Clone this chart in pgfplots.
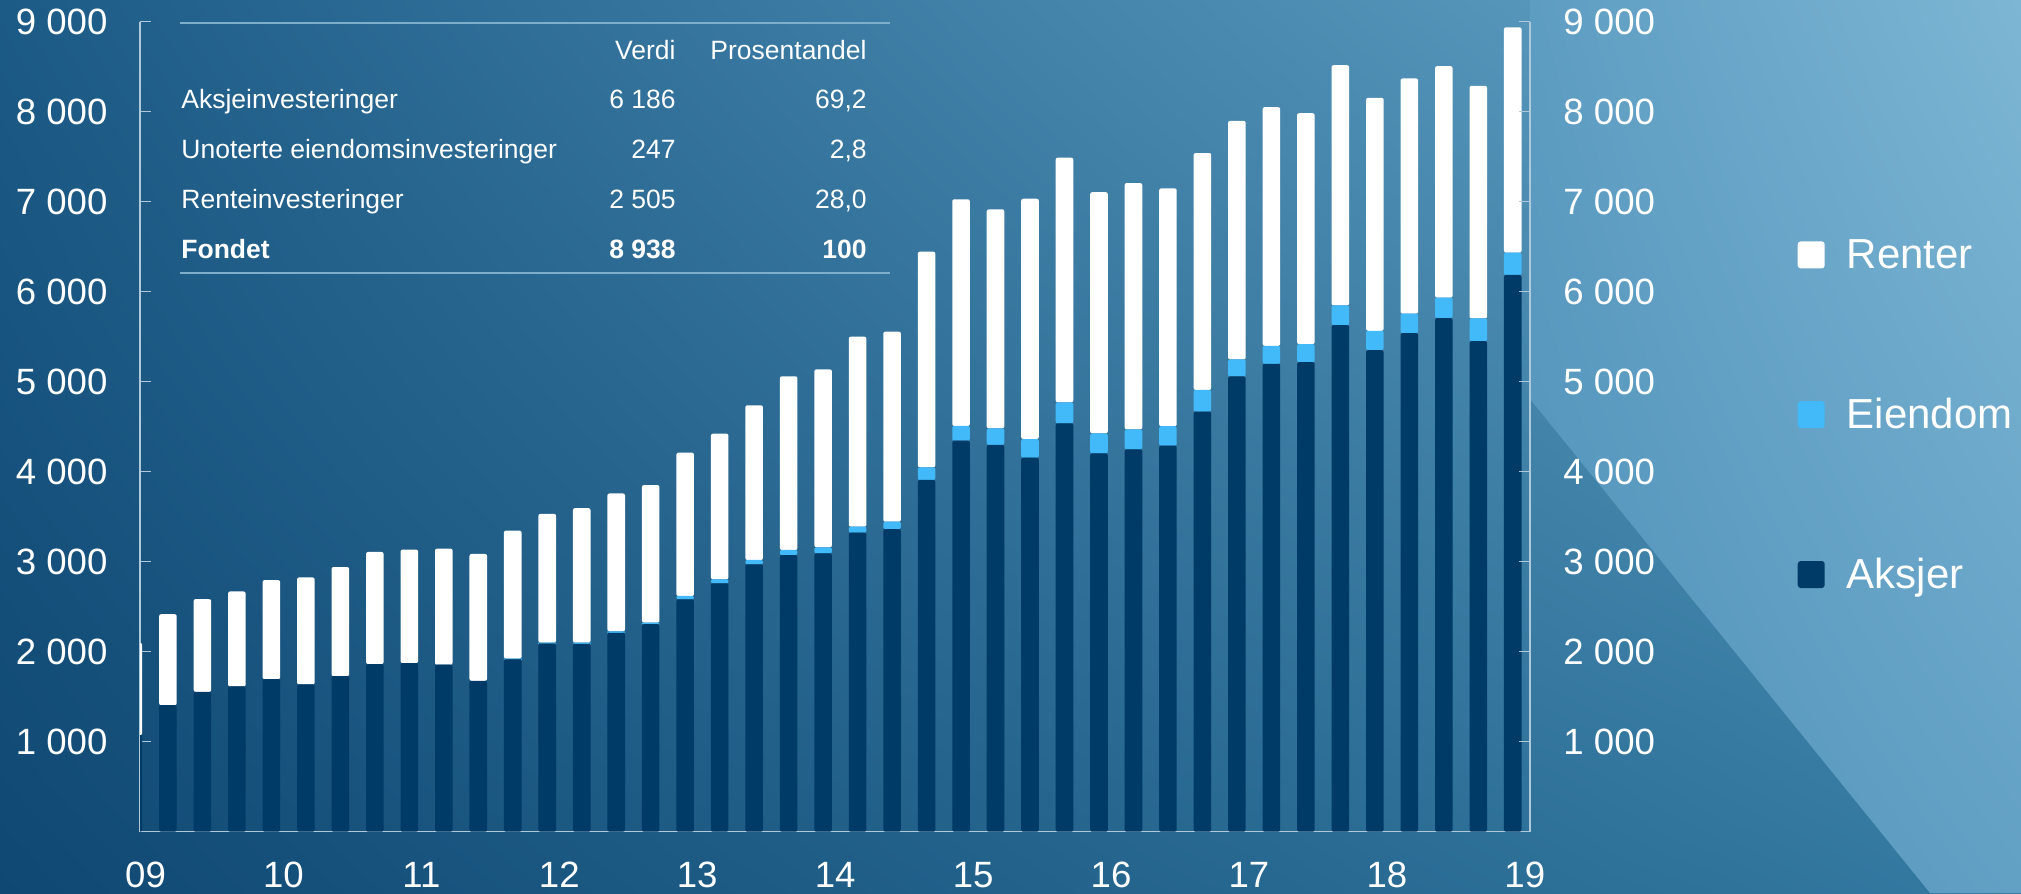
\documentclass[border=0pt]{standalone}
\usepackage{pgfplots}
\pgfplotsset{compat=1.18}
\usepackage{pgfplotstable}
\usetikzlibrary{shadings}
\usepackage{fontspec}
\setmainfont{Liberation Sans}

\definecolor{aksjer}{RGB}{0,58,102}
\definecolor{eiendom}{RGB}{66,185,248}
\definecolor{axiscol}{RGB}{175,200,218}
\definecolor{rulecol}{RGB}{125,175,205}
\definecolor{bgLL}{RGB}{15,72,115}
\definecolor{bgUL}{RGB}{28,91,134}
\definecolor{bgLR}{RGB}{52,122,161}
\definecolor{bgUR}{RGB}{106,169,204}
\definecolor{pgUL}{RGB}{94,157,194}
\definecolor{pgUR}{RGB}{125,182,212}
\definecolor{pgLL}{RGB}{80,145,185}
\definecolor{pgLR}{RGB}{98,160,196}

% quarter index (0 = Q1 2009 ... 40 = Q1 2019), mrd. kroner
\pgfplotstableread{
i A E R
0 1074 0 1023
1 1406 0 1011
2 1554 0 1030
3 1614 0 1055
4 1695 0 1101
5 1636 0 1189
6 1729 0 1212
7 1863 0 1245
8 1874 0 1260
9 1855 0 1290
10 1677 0 1409
11 1915 8 1423
12 2090 10 1432
13 2088 12 1495
14 2210 15 1533
15 2305 18 1528
16 2582 37 1592
17 2760 44 1618
18 2971 48 1719
19 3074 56 1930
20 3093 67 1977
21 3322 67 2111
22 3363 81 2112
23 3908 141 2395
24 4344 164 2519
25 4297 185 2433
26 4156 207 2670
27 4538 233 2718
28 4204 222 2680
29 4249 222 2736
30 4290 215 2643
31 4668 241 2632
32 5058 189 2651
33 5199 200 2651
34 5217 201 2565
35 5629 219 2669
36 5351 215 2588
37 5540 216 2613
38 5707 227 2572
39 5451 253 2583
40 6186 247 2505
}\fund

\pgfplotsset{
  sq/.style={legend image code/.code={\fill[##1, rounded corners=1.5pt] (0pt,-6.75pt) rectangle (13.5pt,6.75pt);}},
  frame/.style={
    at={(70pt,30.65pt)}, anchor=south west, scale only axis,
    width=695pt, height=405pt,
    xmin=0.19, xmax=40.5, ymin=0, ymax=9000,
    axis line style={-, draw=axiscol, line width=0.8pt},
    tick align=inside, major tick length=5.5pt,
    tick style={draw=axiscol, line width=0.8pt},
    ytick={1000,2000,3000,4000,5000,6000,7000,8000,9000},
    ticklabel style={font=\fontsize{18.3}{21}\selectfont, text=white, inner sep=0pt},
  },
  ylabs/.style={yticklabels={1 000,2 000,3 000,4 000,5 000,6 000,7 000,8 000,9 000}},
}

\begin{document}
\begin{tikzpicture}
\begin{scope}[x=0.5pt,y=0.5pt]
  \shade[lower left=bgLL, upper left=bgUL, upper right=bgUR, lower right=bgLR]
    (0,0) rectangle (2021,893);
  \shade[lower left=pgLL, upper left=pgUL, upper right=pgUR, lower right=pgLR]
    (1530,494) -- (1930,0) -- (2021,0) -- (2021,893) -- (1530,893) -- cycle;
  % table
  \draw[rulecol, line width=1pt] (180,869.7) -- (890,869.7);
  \draw[rulecol, line width=1pt] (180,620.3) -- (890,620.3);
  \begin{scope}[every node/.style={inner sep=0pt, text=white, font=\fontsize{13.25}{16}\selectfont}]
    \node[anchor=base east] at (676,833) {Verdi};
    \node[anchor=base east] at (867,833) {Prosentandel};
    \node[anchor=base west] at (181,784) {Aksjeinvesteringer};
    \node[anchor=base east] at (676,784) {6 186};
    \node[anchor=base east] at (867,784) {69,2};
    \node[anchor=base west] at (181,734) {Unoterte eiendomsinvesteringer};
    \node[anchor=base east] at (676,734) {247};
    \node[anchor=base east] at (867,734) {2,8};
    \node[anchor=base west] at (181,684) {Renteinvesteringer};
    \node[anchor=base east] at (676,684) {2 505};
    \node[anchor=base east] at (867,684) {28,0};
    \node[anchor=base west] at (181,634) {\bfseries Fondet};
    \node[anchor=base east] at (676,634) {\bfseries 8 938};
    \node[anchor=base east] at (867,634) {\bfseries 100};
  \end{scope}
\end{scope}

\begin{axis}[frame,
  ybar stacked, bar width=0.51,
  axis x line*=bottom, axis y line*=left,
  yticklabels={,,},
  xtick={0.35,4.35,8.35,12.35,16.35,20.35,24.35,28.35,32.35,36.35,40.35},
  xticklabels={09,10,11,12,13,14,15,16,17,18,19},
  major x tick style={draw=none},
  xticklabel style={anchor=base, yshift=-27.7pt},
  legend style={at={(1.1926,0.7374)}, anchor=north west, draw=none, fill=none,
    inner sep=0pt, outer sep=0pt, row sep=59.4pt, column sep=9pt,
    font=\fontsize{21}{24}\selectfont, text=white,
    cells={anchor=west, inner sep=0pt, text height=15pt, text depth=0pt}},
  reverse legend,
]
\addplot[fill=aksjer, draw=none, rounded corners=1pt, sq] table[x=i, y=A] {\fund};
\addplot[fill=eiendom, draw=none, rounded corners=1pt, sq] table[x=i, y=E] {\fund};
\addplot[fill=white, draw=none, rounded corners=1pt, sq] table[x=i, y=R] {\fund};
\legend{Aksjer, Eiendom, Renter}
\end{axis}

% left tick labels: a narrow helper axis at the left edge
\begin{axis}[frame, ylabs,
  at={(0pt,30.65pt)}, width=1pt, xmin=0, xmax=1,
  axis x line=none, axis y line*=right,
  axis line style={draw=none}, tick style={draw=none},
  yticklabel style={anchor=west, xshift=6.75pt},
]
\addplot[draw=none] coordinates {(0.5,0)};
\end{axis}

% right tick labels
\begin{axis}[frame, ylabs,
  axis x line=none, axis y line*=right,
  yticklabel style={anchor=west, xshift=16.5pt},
]
\addplot[draw=none] coordinates {(1,0)};
\end{axis}

\pgfresetboundingbox
\path[use as bounding box] (0,0) rectangle (1010.5pt,446.5pt);
\end{tikzpicture}
\end{document}
